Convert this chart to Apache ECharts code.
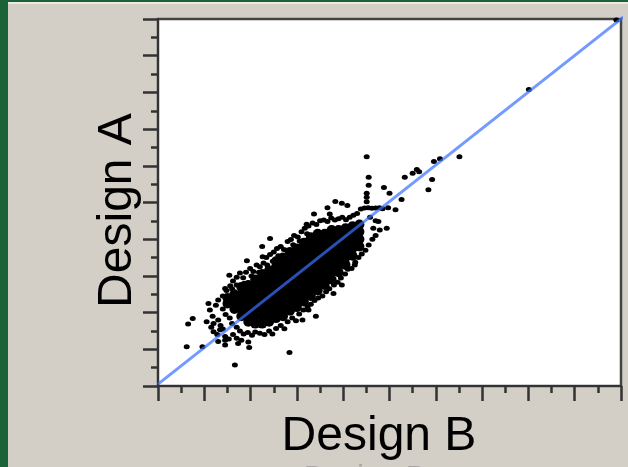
<!DOCTYPE html>
<html>
<head>
<meta charset="utf-8">
<style>html,body{margin:0;padding:0;background:#d3cfc7}#c{width:628px;height:467px}</style>
<script src="https://cdn.jsdelivr.net/npm/echarts@6/dist/echarts.min.js"></script>
</head>
<body>
<div id="c"></div>
<script>
const xAxisTitle = 'Design B';
const yAxisTitle = 'Design A';
const identityLine = [[0, 0.5], [101, 101]];

// Dense part of the cloud, read column by column: [B, [A values...]]
const denseColumns = [
  [15, [22.5, 24]],
  [16.5, [21, 23, 25]],
  [18, [19, 21, 23, 25, 27]],
  [19.5, [17.5, 19.5, 21.5, 23.5, 25.5, 27.5]],
  [21, [17, 19, 21, 23, 25, 27, 29]],
  [22.5, [17, 19, 21, 23, 25, 27, 29, 30.5]],
  [24, [17.5, 19.5, 21.5, 23.5, 25.5, 27.5, 29.5, 31.5]],
  [25.5, [18.5, 20.5, 22.5, 24.5, 26.5, 28.5, 30.5, 32.5, 34]],
  [27, [19, 21, 23, 25, 27, 29, 31, 33, 35]],
  [28.5, [20.5, 22.5, 24.5, 26.5, 28.5, 30.5, 32.5, 34.5, 36.5]],
  [30, [21.5, 23.5, 25.5, 27.5, 29.5, 31.5, 33.5, 35.5, 37.5]],
  [31.5, [23, 25, 27, 29, 31, 33, 35, 37, 39]],
  [33, [24.5, 26.5, 28.5, 30.5, 32.5, 34.5, 36.5, 38.5, 40.5]],
  [34.5, [26, 28, 30, 32, 34, 36, 38, 40, 41.5]],
  [36, [27.5, 29.5, 31.5, 33.5, 35.5, 37.5, 39.5, 41.5]],
  [37.5, [29, 31, 33, 35, 37, 39, 41, 42.5]],
  [39, [31, 33, 35, 37, 39, 41, 42.5]],
  [40.5, [33, 35, 37, 39, 41, 43]],
  [42, [35.5, 37.5, 39.5, 41.5, 43.5]],
  [43.5, [38, 40, 42, 44]]
];

const upperEdge = [[14,24.5],[14.8,26],[15.6,27.3],[16.2,28.6],[17,29.6],[17.7,30.8],[18.4,29.5],[19,31],[19.9,32],[20.6,31.2],[21.3,33],[22,32.5],[22.8,33.5],[23.4,35],[24.2,35.8],[25,36.5],[25.7,37.5],[26.5,38],[27.2,37.2],[28,39.4],[28.7,39.9],[29.4,41],[30.2,40.6],[31,42],[31.7,43],[32.5,43.6],[33.4,44.4],[34.2,44],[35,45],[35.8,45.2],[36.6,44.8],[37.4,45.8],[38.2,45.2],[39,45.6],[39.8,46],[40.6,45.3],[41.4,46],[42.2,46.5],[43,47],[43.8,48.2],[44.6,48.5],[45.4,48.6],[46.2,48.4],[47,48.5],[47.8,48.6],[48.5,48.3],[16,26.5],[17,27.5],[18.6,28],[20.2,30],[21.8,31],[23.6,33],[24.8,34],[26,35.5],[27.8,37],[29.2,38.5],[30.6,39.5],[32.2,41.5]];
const lowerEdge = [[14,21],[14.6,19.5],[15.5,18.5],[16,17],[17,16],[17.7,15],[18.5,14.2],[19.4,14.6],[20.3,13.8],[21,14.7],[22,14.4],[23,14],[24,15],[24.7,14.2],[25.5,15.7],[26.5,16.5],[27.3,15.6],[28,17.5],[29,18.5],[29.8,17.8],[30.5,19.6],[31.4,20.7],[32.3,21.5],[33,22.3],[33.8,23.3],[34.6,24],[35.5,24.5],[36.3,25.7],[37,26.5],[38,27.5],[38.8,28.3],[39.5,29.4],[40.4,30.5],[41,31.8],[41.8,32],[42.6,33.7],[43.3,35],[44,36],[44.8,37],[45.5,38.4],[46.3,40],[47,41],[46.5,43],[47,45],[45.8,46]];
const leftScatter = [[12.5,22],[11.8,19],[13,18],[12,17],[13.5,16.5],[14,15.5],[12.8,14],[11.5,16],[14.5,13.5],[15.3,12.8],[16.2,14],[17,13],[18,12.5],[13,23.4],[14.5,26.6],[10.9,22.5],[11.2,20.7],[10.5,17.5],[12,14.8],[13.4,15.3],[19.7,10.5],[19.5,12],[17.3,11.6],[14.5,11.2],[13,12.1],[14.5,12.5]];
const outliers = [[45.07,62.5],[45.5,56.9],[45.5,54.7],[45.07,52.5],[45.07,51.4],[45.07,50.2],[48.8,54.1],[50,52.5],[52.6,50.8],[53.3,56.9],[51.3,48],[49.7,48.6],[47.6,44.8],[49.4,43],[47.9,42.5],[38.3,50.3],[39.7,49.8],[40.9,49.2],[36.6,48.6],[37.1,46.9],[33.7,46.9],[32.1,44.1],[24.2,40.2],[22.5,38],[22.6,35.2],[19.2,34.1],[15.4,30.2],[7.5,18.4],[6.5,16.9],[6.2,10.7],[9.6,10.7],[16.6,5.7],[28.4,9.1],[34.1,19],[31.2,18],[32.5,20.7],[37.9,25.2],[39.7,27.5],[42.5,33],[80.1,80.8],[65.1,62.5],[60.9,61.9],[59.6,61.2],[55.9,59],[55,58],[56.4,58.4],[59.2,56.3],[58.4,53.5],[99,99.7]];

const densePoints = denseColumns.flatMap(([b, as]) => as.map(a => [b, a]));
const sparsePoints = [...upperEdge, ...lowerEdge, ...leftScatter, ...outliers];

const chart = echarts.init(document.getElementById('c'), null, {renderer: 'canvas'});
const axisBase = {
  type: 'value', min: 0, max: 100, interval: 10,
  axisLabel: {show: false},
  axisLine: {show: true, onZero: false, lineStyle: {color: '#333', width: 2}},
  axisTick: {show: true, length: 15, lineStyle: {color: '#333', width: 2.5}},
  minorTick: {show: true, splitNumber: 2, length: 7, lineStyle: {color: '#333', width: 2.5}},
  splitLine: {show: false},
  nameLocation: 'middle'
};
chart.setOption({
  animation: false,
  backgroundColor: '#d3cfc7',
  grid: {left: 158, top: 19, right: 7, bottom: 81, outerBoundsMode: 'none', show: true, backgroundColor: '#fff', borderColor: '#444', borderWidth: 2.5},
  xAxis: {...axisBase, name: xAxisTitle, nameGap: 27,
    nameTextStyle: {fontFamily: 'Liberation Sans', fontSize: 48, color: '#000', padding: [0, 21, 0, 0]}},
  yAxis: {...axisBase, name: yAxisTitle, nameGap: 16,
    nameTextStyle: {fontFamily: 'Liberation Sans', fontSize: 48, color: '#000', padding: [41, 16, 0, 0]}},
  graphic: [
    {type: 'rect', shape: {x: 0, y: 0, width: 8, height: 467}, style: {fill: '#1a6238'}, z: 10},
    {type: 'rect', shape: {x: 0, y: 0, width: 628, height: 2}, style: {fill: '#1a6238'}, z: 10},
    {type: 'rect', shape: {x: 8, y: 2, width: 620, height: 2}, style: {fill: '#ece9e3'}, z: 10},
    {type: 'text', x: 304, y: 463, style: {text: xAxisTitle, fontFamily: 'Liberation Sans', fontSize: 30, fill: '#a8a5a0'}, z: 1}
  ],
  series: [
    {type: 'scatter', data: densePoints, symbol: 'circle', symbolSize: 10, itemStyle: {color: '#000', opacity: 1}, z: 2},
    {type: 'scatter', data: sparsePoints, symbol: 'circle', symbolSize: [6, 5], itemStyle: {color: '#000', opacity: 1}, z: 2},
    {type: 'line', data: identityLine, showSymbol: false, symbol: 'none', clip: false,
      lineStyle: {color: 'rgba(56,113,255,0.71)', width: 3}, z: 3}
  ]
});
</script>
</body>
</html>
